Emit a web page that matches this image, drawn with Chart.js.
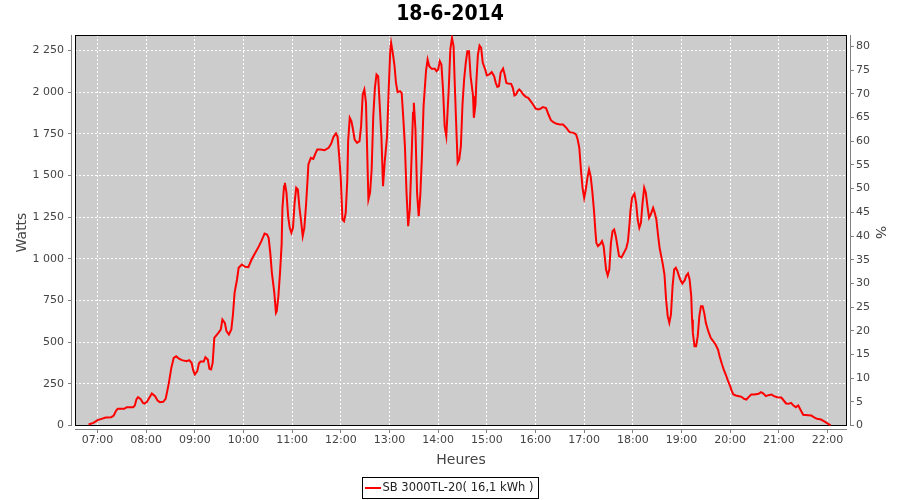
<!DOCTYPE html>
<html><head><meta charset="utf-8">
<script src="https://cdn.jsdelivr.net/npm/chart.js@4/dist/chart.umd.min.js"></script>
<style>html,body{margin:0;padding:0;background:#fff;}canvas{display:block;}</style>
</head><body>
<canvas id="c" width="900" height="500"></canvas>
<script>
const chartTitle = '18-6-2014';
const seriesLabel = 'SB 3000TL-20( 16,1 kWh )';
const xTitle = 'Heures';
const yTitle = 'Watts';
const y2Title = '%';

const hourTicks = [420,480,540,600,660,720,780,840,900,960,1020,1080,1140,1200,1260,1320];
const hourLabels = ['07:00','08:00','09:00','10:00','11:00','12:00','13:00','14:00','15:00','16:00','17:00','18:00','19:00','20:00','21:00','22:00'];
const wattTicks = [0,250,500,750,1000,1250,1500,1750,2000,2250];
const wattLabels = ['0','250','500','750','1 000','1 250','1 500','1 750','2 000','2 250'];
const pctTicks = [0,5,10,15,20,25,30,35,40,45,50,55,60,65,70,75,80];

// time of day in minutes since midnight
const minutes = [
409,415,420,425,430,437,440,443,445,453,
456,464,466,468,470,473,476,478,481,485,
487,491,494,497,501,504,506,508,511,514,
517,520,524,530,533,536,538,540,543,545,
547,551,553,556,558,560,562,564,569,572,
574,577,579,582,585,587,589,592,594,598,
602,606,610,614,618,622,626,629,631,633,
635,638,640,641,643,645,647,648,650,651,
653,655,657,659,661,663,665,667,669,671,
673,675,677,679,680,683,686,689,691,695,
700,705,708,711,714,716,718,720,722,724,
726,728,729,731,733,735,737,740,743,745,
747,749,751,753,754,756,758,760,762,764,
766,768,770,772,774,777,779,781,782,784,
786,788,790,793,795,797,799,801,803,805,
807,809,810,812,814,816,818,820,822,825,
827,829,832,836,838,840,842,844,846,848,
850,851,853,855,857,859,860,862,864,866,
868,870,872,874,876,878,880,883,884,886,
887,889,891,893,895,898,900,903,906,909,
911,913,915,917,920,922,924,926,930,932,
934,936,938,940,942,945,948,951,954,957,
960,963,966,969,973,976,979,982,986,990,
994,998,1002,1007,1010,1012,1014,1016,1018,1020,
1022,1024,1026,1028,1030,1032,1034,1035,1037,1040,
1042,1044,1047,1049,1051,1053,1055,1057,1059,1061,
1063,1066,1069,1072,1074,1076,1077,1079,1082,1084,
1086,1088,1090,1092,1094,1096,1098,1100,1102,1105,
1107,1109,1111,1113,1115,1117,1119,1121,1123,1125,
1127,1129,1131,1133,1135,1138,1141,1144,1146,1148,
1150,1152,1153,1154,1156,1158,1160,1162,1164,1166,
1168,1170,1173,1176,1179,1182,1185,1187,1190,1192,
1195,1197,1200,1202,1204,1207,1211,1214,1217,1220,
1223,1226,1230,1235,1238,1241,1244,1247,1251,1254,
1258,1263,1265,1269,1272,1275,1278,1281,1284,1287,
1290,1296,1300,1303,1307,1312,1315,1319,1322,1324
];
const watts = [
6,16,32,40,48,50,60,90,100,100,
110,110,120,156,170,160,136,132,142,176,
192,176,150,140,142,160,206,256,346,406,
416,402,392,386,392,376,330,306,326,372,
384,384,410,396,340,336,376,526,556,576,
636,616,566,546,576,666,796,876,946,966,
952,950,996,1032,1066,1106,1152,1146,1126,1036,
916,796,676,686,776,916,1086,1306,1436,1456,
1396,1256,1186,1156,1186,1336,1426,1416,1306,1226,
1136,1186,1316,1476,1566,1606,1600,1636,1656,1656,
1652,1666,1690,1732,1752,1732,1616,1476,1236,1226,
1276,1476,1706,1846,1826,1776,1716,1696,1706,1796,
1986,2016,1936,1546,1356,1396,1536,1856,2026,2106,
2096,1916,1736,1436,1576,1736,2016,2256,2296,2236,
2166,2056,2000,2006,1996,1846,1676,1396,1196,1296,
1576,1876,1936,1776,1396,1256,1386,1616,1916,2126,
2196,2156,2140,2140,2126,2136,2186,2166,2016,1796,
1736,1826,2016,2256,2326,2276,2116,1836,1576,1596,
1676,1926,2076,2176,2246,2246,2096,1976,1846,1926,
2056,2226,2280,2266,2176,2136,2100,2106,2120,2096,
2056,2032,2036,2116,2142,2106,2056,2052,2050,2026,
1980,1986,2006,2016,2006,1986,1972,1966,1946,1926,
1902,1896,1900,1910,1904,1866,1832,1820,1810,1806,
1806,1786,1760,1756,1746,1716,1666,1536,1426,1366,
1416,1486,1536,1496,1406,1296,1156,1096,1076,1090,
1106,1076,936,900,936,1096,1166,1176,1136,1076,
1016,1008,1036,1066,1106,1216,1286,1366,1390,1336,
1236,1186,1216,1336,1426,1396,1316,1246,1266,1306,
1276,1236,1146,1066,1016,966,906,756,656,616,
666,836,936,946,926,880,852,872,900,912,
876,776,636,556,476,476,536,656,716,716,
676,616,566,526,506,486,456,416,366,336,
300,272,236,206,186,180,176,172,160,156,
172,186,186,190,200,192,176,182,186,176,
170,168,156,132,130,136,120,110,120,92,
64,62,60,50,40,36,28,16,6,2
];

const FONT = 'DejaVu Sans';
const tickFont = {family: FONT, size: 11};
const axisTitleFont = {family: FONT, size: 14};
const GAP = 4;

const framePlugin = {
  id: 'frame',
  beforeDraw(chart) {
    const {ctx, chartArea: a} = chart;
    ctx.save();
    ctx.fillStyle = '#cccccc';
    ctx.fillRect(a.left + GAP, a.top, a.right - a.left - 2 * GAP, a.bottom - a.top - GAP);
    ctx.restore();
  },
  beforeDatasetsDraw(chart) {
    const {ctx, chartArea: a} = chart;
    ctx.save();
    ctx.lineWidth = 1;
    ctx.strokeStyle = '#000000';
    ctx.strokeRect(a.left + GAP + 0.5, a.top + 0.5, a.right - a.left - 2 * GAP - 1, a.bottom - a.top - GAP - 1);
    ctx.strokeStyle = '#808080';
    ctx.beginPath();
    ctx.moveTo(a.left + 0.5, a.top); ctx.lineTo(a.left + 0.5, a.bottom - GAP);
    ctx.moveTo(a.left + GAP, a.bottom - 0.5); ctx.lineTo(a.right - GAP, a.bottom - 0.5);
    ctx.moveTo(a.right - 0.5, a.top); ctx.lineTo(a.right - 0.5, a.bottom - GAP);
    ctx.stroke();
    ctx.restore();
  },
  afterDraw(chart) {
    const ctx = chart.ctx;
    ctx.save();
    ctx.font = '11.5px "DejaVu Sans"';
    const tw = ctx.measureText(seriesLabel).width;
    const w = Math.round(3 + 16 + 2 + tw + 4);
    const x0 = Math.round(449.5 - w / 2);
    const y0 = 477;
    ctx.lineWidth = 1;
    ctx.strokeStyle = '#000000';
    ctx.strokeRect(x0 + 0.5, y0 + 0.5, w, 21);
    ctx.strokeStyle = '#ff0000';
    ctx.lineWidth = 2;
    ctx.beginPath();
    ctx.moveTo(x0 + 3, y0 + 11); ctx.lineTo(x0 + 19, y0 + 11);
    ctx.stroke();
    ctx.fillStyle = '#222222';
    ctx.textBaseline = 'middle';
    ctx.textAlign = 'left';
    ctx.fillText(seriesLabel, x0 + 20.5, y0 + 11.3);
    ctx.restore();
  }
};

new Chart(document.getElementById('c'), {
  type: 'line',
  data: {
    datasets: [{
      label: seriesLabel,
      data: minutes.map((m, i) => ({x: m, y: watts[i]})),
      borderColor: '#ff0000',
      borderWidth: 2,
      pointRadius: 0,
      tension: 0,
      fill: false,
      xAxisID: 'x',
      yAxisID: 'y'
    }]
  },
  options: {
    responsive: false,
    devicePixelRatio: 1,
    animation: false,
    layout: {padding: {top: 0, left: 0, right: 0, bottom: 30}},
    plugins: {
      legend: {display: false},
      tooltip: {enabled: false},
      title: {
        display: true,
        text: chartTitle,
        color: '#000000',
        font: {family: "'DejaVu Sans Condensed', 'DejaVu Sans', sans-serif", weight: 'bold', size: 21, lineHeight: 1.2},
        padding: {top: 1.7, bottom: 8.1}
      }
    },
    scales: {
      x: {
        type: 'linear', position: 'bottom', bounds: 'data',
        min: 387.33, max: 1348.97,
        afterFit(s) { s.height = 40; },
        afterBuildTicks(s) { s.ticks = hourTicks.map(v => ({value: v})); },
        ticks: {callback: (v, i) => hourLabels[i], autoSkip: false, maxRotation: 0, minRotation: 0, padding: 1, font: tickFont, color: '#444444'},
        grid: {color: '#ffffff', lineWidth: 1, tickLength: 3, tickColor: '#808080', tickWidth: 1},
        border: {display: false, dash: [2, 2]},
        title: {display: true, text: xTitle, font: axisTitleFont, color: '#444444', padding: {top: 0, bottom: 1.6}}
      },
      y: {
        type: 'linear', position: 'left', bounds: 'data',
        min: -27, max: 2343,
        afterFit(s) { s.width = 71; },
        afterBuildTicks(s) { s.ticks = wattTicks.map(v => ({value: v})); },
        ticks: {callback: (v, i) => wattLabels[i], autoSkip: false, padding: 4, font: tickFont, color: '#444444'},
        grid: {color: '#ffffff', lineWidth: 1, tickLength: 3, tickColor: '#808080', tickWidth: 1},
        border: {display: false, dash: [2, 2]},
        title: {display: true, text: yTitle, font: axisTitleFont, color: '#444444', padding: {top: 13.6, bottom: 0}}
      },
      y1: {
        type: 'linear', position: 'right', display: true, bounds: 'data',
        min: -0.95, max: 82.43,
        afterFit(s) { s.width = 49; },
        afterBuildTicks(s) { s.ticks = pctTicks.map(v => ({value: v})); },
        ticks: {callback: (v, i) => String(pctTicks[i]), autoSkip: false, padding: 2, font: tickFont, color: '#444444'},
        grid: {drawOnChartArea: false, color: '#808080', tickLength: 3, tickColor: '#808080', tickWidth: 1},
        border: {display: false},
        title: {display: true, text: y2Title, font: axisTitleFont, color: '#444444', padding: {top: 11.6, bottom: 0}}
      }
    }
  },
  plugins: [framePlugin]
});
</script>
</body></html>
